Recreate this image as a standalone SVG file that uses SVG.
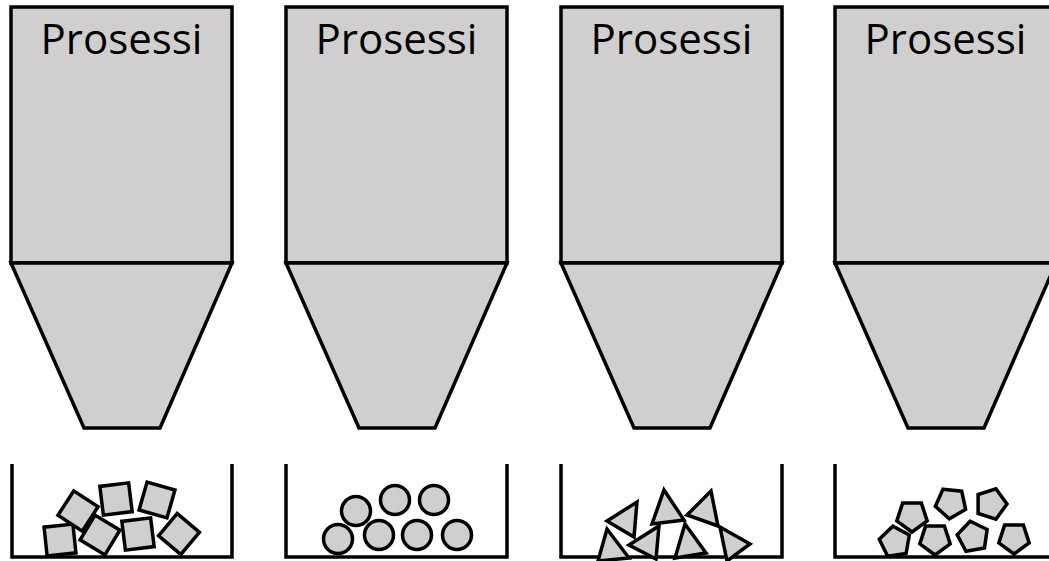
<svg xmlns="http://www.w3.org/2000/svg" width="1049" height="561" viewBox="0 0 1049 561">
<style>
.body{fill:#d0cece;stroke:#000;stroke-width:3.5;stroke-linejoin:miter}
.lbl{font-family:"Open Sans","Liberation Sans",sans-serif;font-size:42px;fill:#000;text-anchor:middle}
.cont{fill:none;stroke:#000;stroke-width:3.5}
.p{fill:#d0cece;stroke:#000;stroke-width:3.5;stroke-linejoin:miter}
</style>
<defs>
<rect id="sq" x="-14.5" y="-14.5" width="29" height="29" class="p"/>
<circle id="ci" r="14.5" class="p"/>
<polygon id="pe" points="0,16 -15.2,4.9 -9.4,-12.9 9.4,-12.9 15.2,4.9" class="p"/>
</defs>
<rect width="1049" height="561" fill="#fff"/>

<g id="silo1">
<rect class="body" x="11" y="7" width="221" height="256"/>
<polygon class="body" points="11,263 232,263 160,428 84,428"/>
<text class="lbl" x="121.5" y="54">Prosessi</text>
</g>
<g id="silo2">
<rect class="body" x="286" y="7" width="221" height="256"/>
<polygon class="body" points="286,263 507,263 435,428 359,428"/>
<text class="lbl" x="396.5" y="54">Prosessi</text>
</g>
<g id="silo3">
<rect class="body" x="561" y="7" width="221" height="256"/>
<polygon class="body" points="561,263 782,263 710,428 634,428"/>
<text class="lbl" x="671.5" y="54">Prosessi</text>
</g>
<g id="silo4">
<rect class="body" x="835" y="7" width="221" height="256"/>
<polygon class="body" points="835,263 1056,263 984,428 908,428"/>
<text class="lbl" x="945.5" y="54">Prosessi</text>
</g>

<g id="bin1">
<polyline class="cont" points="12,464 12,557 232,557 232,464"/>
<use href="#sq" transform="translate(60,540) rotate(-6)"/>
<use href="#sq" transform="translate(78,511) rotate(33)"/>
<use href="#sq" transform="translate(100,535) rotate(31)"/>
<use href="#sq" transform="translate(116,499) rotate(-7)"/>
<use href="#sq" transform="translate(138,534) rotate(-7)"/>
<use href="#sq" transform="translate(157,500) rotate(16)"/>
<use href="#sq" transform="translate(179,534) rotate(40)"/>
</g>
<g id="bin2">
<polyline class="cont" points="286,464 286,557 507,557 507,464"/>
<use href="#ci" x="338" y="539"/>
<use href="#ci" x="356" y="511"/>
<use href="#ci" x="379" y="535"/>
<use href="#ci" x="395" y="500"/>
<use href="#ci" x="417" y="535"/>
<use href="#ci" x="434" y="500"/>
<use href="#ci" x="457" y="535"/>
</g>
<g id="bin3">
<polyline class="cont" points="561,464 561,557 782,557 782,464"/>
<polygon class="p" points="607,521 637,502 634,537"/>
<polygon class="p" points="607,529 629,558 598,561"/>
<polygon class="p" points="629,545 659,526 656,559"/>
<polygon class="p" points="664,490 684,520 652,524"/>
<polygon class="p" points="711,491 718,526 687,515"/>
<polygon class="p" points="685,524 706,553 675,558"/>
<polygon class="p" points="720,527 750,544 727,561"/>
</g>
<g id="bin4">
<polyline class="cont" points="835,464 835,557 1056,557 1056,464"/>
<use href="#pe" transform="translate(895,542) rotate(100)"/>
<use href="#pe" transform="translate(912,516)"/>
<use href="#pe" transform="translate(935,539)"/>
<use href="#pe" transform="translate(951,503) rotate(150)"/>
<use href="#pe" transform="translate(973,537) rotate(170)"/>
<use href="#pe" transform="translate(991,504) rotate(-90)"/>
<use href="#pe" transform="translate(1014,538)"/>
</g>
</svg>
